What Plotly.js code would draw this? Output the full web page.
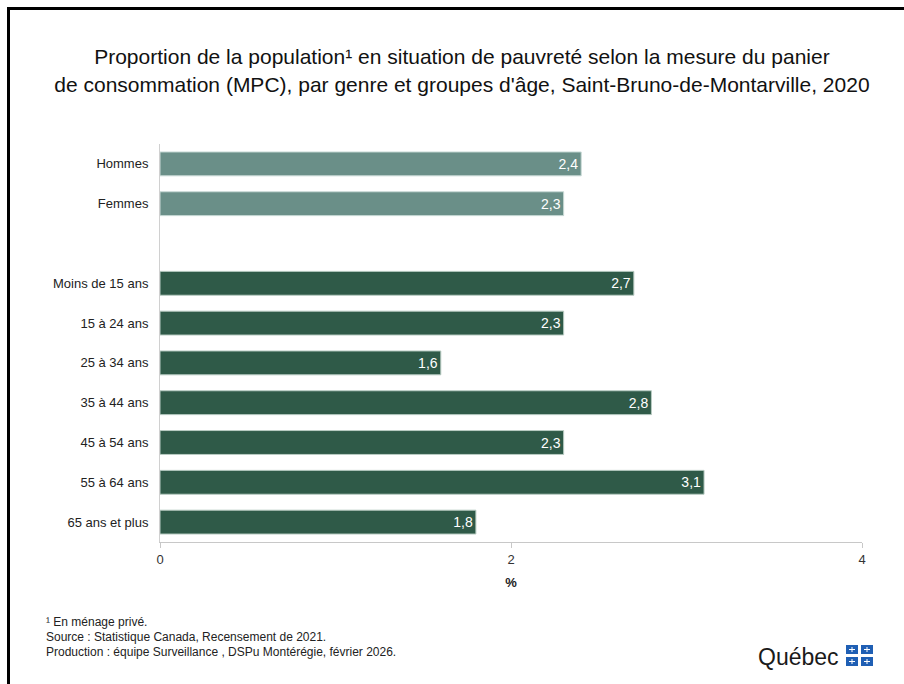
<!DOCTYPE html>
<html>
<head>
<meta charset="utf-8">
<script src="https://cdn.plot.ly/plotly-3.0.1.min.js"></script>
<style>
html,body{margin:0;padding:0;background:#fff;}
#frame{position:absolute;left:7px;top:7px;width:897px;height:677px;border-top:3px solid #000;border-left:3px solid #000;box-sizing:border-box;pointer-events:none;z-index:5;}
#chart{width:904px;height:684px;}
</style>
</head>
<body>
<div id="frame"></div>
<div id="chart"></div>
<script>
const categories = ["Hommes","Femmes"," ","Moins de 15 ans","15 à 24 ans","25 à 34 ans","35 à 44 ans","45 à 54 ans","55 à 64 ans","65 ans et plus"];
const genderCats = ["Hommes","Femmes"];
const genderValues = [2.4, 2.3];
const ageCats = ["Moins de 15 ans","15 à 24 ans","25 à 34 ans","35 à 44 ans","45 à 54 ans","55 à 64 ans","65 ans et plus"];
const ageValues = [2.7, 2.3, 1.6, 2.8, 2.3, 3.1, 1.8];
const xTicks = [0, 2, 4];

const fmt = v => v.toFixed(1).replace('.', ',');

const L = 160, R = 862, T = 144, B = 542;
const px = x => (x - L) / (R - L);
const py = y => (B - y) / (B - T);

const common = {
  type: 'bar', orientation: 'h', width: 0.6,
  textposition: 'inside', insidetextanchor: 'end',
  textfont: {family: 'Liberation Sans, Arial, sans-serif', size: 14, color: '#ffffff'},
  hoverinfo: 'skip', cliponaxis: false
};

const traces = [
  Object.assign({}, common, {
    x: genderValues, y: genderCats, text: genderValues.map(fmt),
    marker: {color: '#6A8F88', line: {color: '#c9dad6', width: 1}}
  }),
  Object.assign({}, common, {
    x: ageValues, y: ageCats, text: ageValues.map(fmt),
    marker: {color: '#2F5A48', line: {color: '#b9ccc3', width: 1}}
  })
];

const footFont = {family: 'Liberation Sans, Arial, sans-serif', size: 12, color: '#222'};

const flagShapes = [];
[[846, 858], [861, 873]].forEach(([a, b]) => {
  [[645, 654], [657, 666]].forEach(([c, d]) => {
    flagShapes.push({type: 'rect', xref: 'paper', yref: 'paper', x0: px(a), x1: px(b), y0: py(c), y1: py(d), fillcolor: '#1F5FB4', line: {width: 0}});
    const mx = (a + b) / 2, my = (c + d) / 2;
    flagShapes.push({type: 'line', xref: 'paper', yref: 'paper', x0: px(mx), x1: px(mx), y0: py(c + 2), y1: py(d - 2), line: {color: '#ffffff', width: 1}});
    flagShapes.push({type: 'line', xref: 'paper', yref: 'paper', x0: px(a + 3), x1: px(b - 3), y0: py(my), y1: py(my), line: {color: '#ffffff', width: 1}});
  });
});

const layout = {
  width: 904, height: 684,
  margin: {l: L, r: 904 - R, t: T, b: 684 - B},
  paper_bgcolor: '#ffffff', plot_bgcolor: '#ffffff',
  showlegend: false, barmode: 'overlay',
  separators: ', ',
  title: {
    text: "Proportion de la population¹ en situation de pauvreté selon la mesure du panier<br>de consommation (MPC), par genre et groupes d'âge, Saint-Bruno-de-Montarville, 2020",
    font: {family: 'Liberation Sans, Arial, sans-serif', size: 21, color: '#111'},
    xref: 'container', x: 0.511, xanchor: 'center',
    yref: 'container', y: 0.906, yanchor: 'middle'
  },
  xaxis: {
    range: [0, 4], tickvals: xTicks, ticktext: xTicks.map(String),
    showgrid: false, zeroline: false,
    showline: true, linecolor: '#c8c8c8', linewidth: 1,
    ticks: 'outside', ticklen: 5, tickcolor: '#c8c8c8',
    tickfont: {family: 'Liberation Sans, Arial, sans-serif', size: 13, color: '#333'},
    title: {text: '<b>%</b>', font: {family: 'Liberation Sans, Arial, sans-serif', size: 13, color: '#222'}, standoff: 12}
  },
  yaxis: {
    type: 'category', categoryorder: 'array', categoryarray: categories,
    range: [9.5, -0.5], autorange: false,
    showgrid: false, zeroline: false,
    showline: true, linecolor: '#d0d0d0', linewidth: 1,
    ticks: '', ticklabelstandoff: 8,
    tickfont: {family: 'Liberation Sans, Arial, sans-serif', size: 13, color: '#222'}
  },
  annotations: [
    {xref: 'paper', yref: 'paper', x: px(44), y: py(622), xanchor: 'left', yanchor: 'middle', showarrow: false, text: '¹ En ménage privé.', font: footFont},
    {xref: 'paper', yref: 'paper', x: px(44), y: py(637), xanchor: 'left', yanchor: 'middle', showarrow: false, text: 'Source : Statistique Canada, Recensement de 2021.', font: footFont},
    {xref: 'paper', yref: 'paper', x: px(44), y: py(652), xanchor: 'left', yanchor: 'middle', showarrow: false, text: 'Production : équipe Surveillance , DSPu Montérégie, février 2026.', font: footFont},
    {xref: 'paper', yref: 'paper', x: px(841), y: py(657), xanchor: 'right', yanchor: 'middle', showarrow: false, text: 'Québec', font: {family: 'Liberation Sans, Arial, sans-serif', size: 23, color: '#1a1a1a'}}
  ],
  shapes: flagShapes
};

Plotly.newPlot('chart', traces, layout, {displayModeBar: false, staticPlot: true});
</script>
</body>
</html>
